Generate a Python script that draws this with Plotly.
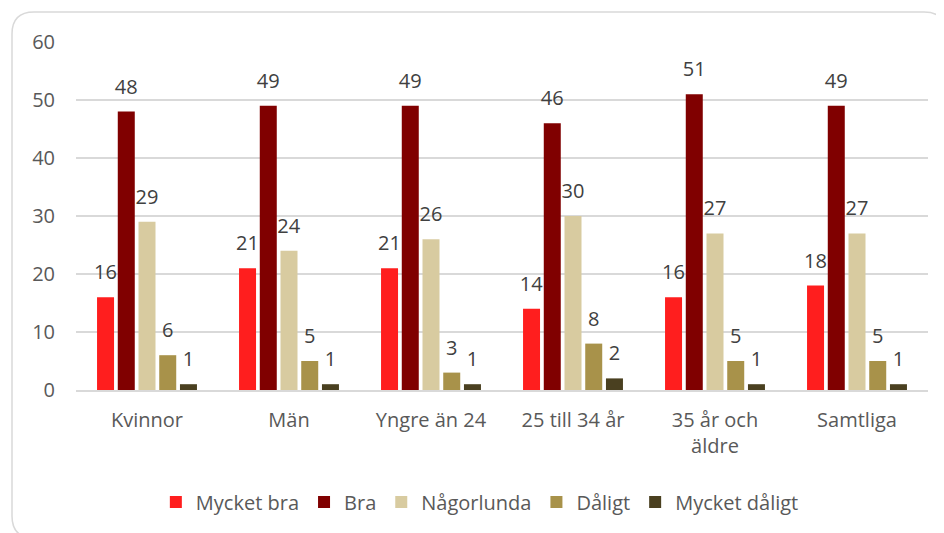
import plotly.graph_objects as go

categories = ["Kvinnor", "Män", "Yngre än 24", "25 till 34 år", "35 år och<br>äldre", "Samtliga"]
series_names = ["Mycket bra", "Bra", "Någorlunda", "Dåligt", "Mycket dåligt"]
mycket_bra = [16, 21, 21, 14, 16, 18]
bra = [48, 49, 49, 46, 51, 49]
nagorlunda = [29, 24, 26, 30, 27, 27]
daligt = [6, 5, 3, 8, 5, 5]
mycket_daligt = [1, 1, 1, 2, 1, 1]
y_ticks = [0, 10, 20, 30, 40, 50, 60]

series_values = [mycket_bra, bra, nagorlunda, daligt, mycket_daligt]
colors = ["#FF1E1E", "#800000", "#D8CBA0", "#A8924A", "#4A4020"]

FONT = "Open Sans"
LABEL_LIFT = 1.55  # data units of space between bar top and its label

fig = go.Figure()
for i, (name, vals, col) in enumerate(zip(series_names, series_values, colors)):
    fig.add_trace(go.Bar(
        x=categories, y=vals, name=name, offsetgroup=str(i),
        marker=dict(color=col, line=dict(width=0)),
    ))
for i, vals in enumerate(series_values):
    fig.add_trace(go.Bar(
        x=categories, y=[LABEL_LIFT] * len(vals), base=vals, offsetgroup=str(i),
        marker=dict(color="rgba(0,0,0,0)", line=dict(width=0)),
        customdata=vals, texttemplate="%{customdata}", textposition="outside",
        textangle=0, constraintext="none", cliponaxis=False,
        textfont=dict(family=FONT, size=20, color="#404040"),
        showlegend=False, hoverinfo="skip",
    ))

# rounded outer border (paper coords computed from page-pixel layout;
# page has an 8px body margin, so plot area sits at page x 76..928, y 42..390)
def X(px):
    return (px - 76) / 852
def Y(py):
    return (390 - py) / 348
L, R, T, B = X(12), X(946), Y(12), Y(538)
rx, ry = 22 / 852, 22 / 348
path = (f"M{L},{T - ry} L{L},{B + ry} Q{L},{B} {L + rx},{B} L{R - rx},{B} Q{R},{B} {R},{B + ry} "
        f"L{R},{T - ry} Q{R},{T} {R - rx},{T} L{L + rx},{T} Q{L},{T} {L},{T - ry} Z")

fig.update_layout(
    width=936, height=525,
    margin=dict(l=68, r=16, t=34, b=143),
    paper_bgcolor="white", plot_bgcolor="white",
    barmode="group", bargap=0.27, bargroupgap=0.18,
    font=dict(family=FONT, size=20, color="#595959"),
    showlegend=True,
    legend=dict(orientation="h", x=0.474, xanchor="center", y=Y(502), yanchor="middle",
                font=dict(family=FONT, size=20, color="#595959"), itemwidth=30,
                traceorder="normal"),
    shapes=[dict(type="path", path=path, xref="paper", yref="paper",
                 line=dict(color="#D9D9D9", width=1.5), fillcolor="rgba(0,0,0,0)", layer="below")],
)
fig.update_xaxes(showline=True, linecolor="#D9D9D9", linewidth=1.5, ticks="",
                 ticklabelstandoff=11, tickfont=dict(family=FONT, size=20, color="#595959"))
fig.update_yaxes(range=[0, 60], tickvals=y_ticks, showgrid=True, gridcolor="#D9D9D9",
                 gridwidth=1.5, zeroline=False, showline=False, ticks="",
                 ticklabelstandoff=20, tickfont=dict(family=FONT, size=20, color="#595959"))

fig.write_html("out.html")
